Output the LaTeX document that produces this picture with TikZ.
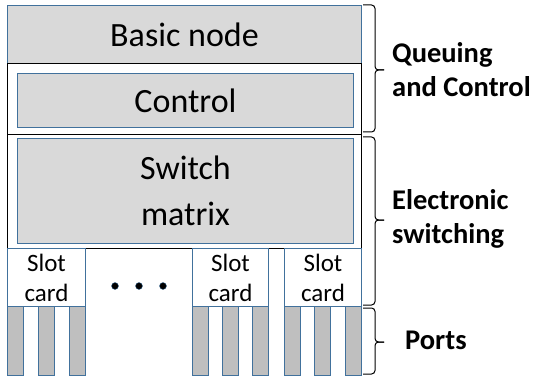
\documentclass[tikz,border=0pt]{standalone}
\usepackage{fontspec}
\setmainfont{Carlito}
\definecolor{boxblue}{HTML}{41719C}
\definecolor{boxgray}{HTML}{D9D9D9}
\definecolor{portgray}{HTML}{BFBFBF}
\begin{document}
\begin{tikzpicture}[x=1pt,y=-1pt,
  box/.style={draw=boxblue, fill=boxgray, line width=1pt, inner sep=0pt, anchor=north west, font=\fontsize{34}{44}\selectfont, align=center},
  outerbox/.style={draw=black, line width=1.3pt, inner sep=0pt, anchor=north west},
  slotbox/.style={draw=boxblue, fill=white, line width=1pt, inner sep=0pt, anchor=north west, minimum width=78pt, minimum height=58pt, font=\fontsize{25}{30}\selectfont, align=center},
  portbox/.style={draw=boxblue, fill=portgray, line width=1pt, inner sep=0pt, anchor=north west, minimum width=16pt, minimum height=69pt},
  dotnode/.style={circle, fill=black, draw=boxblue, inner sep=0pt, minimum size=7pt},
  bracestyle/.style={line width=1pt, rounded corners=3.5pt},
  label/.style={font=\bfseries\fontsize{28.5}{34}\selectfont, align=left, anchor=west, inner sep=0pt}
]
\useasboundingbox (0,0) rectangle (534,379);
\node[box, minimum width=354pt, minimum height=58pt] (basic) at (7,5) {Basic node};
\node[outerbox, minimum width=354pt, minimum height=71pt] (ctrlouter) at (7,63) {};
\node[box, minimum width=336pt, minimum height=54pt] (control) at (17,73) {Control};
\node[outerbox, minimum width=354pt, minimum height=114pt] (swouter) at (7,134) {};
\node[box, minimum width=336pt, minimum height=105pt, font=\fontsize{34}{46}\selectfont] (switch) at (17,138) {Switch\\matrix};
\node[slotbox] (slot1) at (7,248) {Slot\\card};
\node[slotbox, minimum width=76pt] (slot2) at (192,248) {Slot\\card};
\node[slotbox, minimum width=77pt] (slot3) at (284,248) {Slot\\card};
\node[portbox] (p1) at (7,306) {};
\node[portbox] (p2) at (38,306) {};
\node[portbox] (p3) at (69,306) {};
\node[portbox] (p4) at (192,306) {};
\node[portbox] (p5) at (222,306) {};
\node[portbox] (p6) at (252,306) {};
\node[portbox] (p7) at (284,306) {};
\node[portbox] (p8) at (314,306) {};
\node[portbox] (p9) at (345,306) {};
\node[dotnode] (d1) at (115,286) {};
\node[dotnode] (d2) at (139,286) {};
\node[dotnode] (d3) at (163,286) {};
% braces
\coordinate (b1t) at (363,5);
\coordinate (b1m) at (384,70);
\coordinate (b1b) at (363,132);
\coordinate (b2t) at (363,137);
\coordinate (b2m) at (384,220);
\coordinate (b2b) at (363,305);
\coordinate (b3t) at (363,308);
\coordinate (b3m) at (384,342);
\coordinate (b3b) at (363,374);
\draw[bracestyle] (b1t) -- ++(12,0) |- (b1m);
\draw[bracestyle] (b1b) -- ++(12,0) |- (b1m);
\draw[bracestyle] (b2t) -- ++(12,0) |- (b2m);
\draw[bracestyle] (b2b) -- ++(12,0) |- (b2m);
\draw[bracestyle] (b3t) -- ++(12,0) |- (b3m);
\draw[bracestyle] (b3b) -- ++(12,0) |- (b3m);
\node[label] (lq) at (392,70) {Queuing\\and Control};
\node[label] (le) at (392,219) {Electronic\\switching};
\node[label] (lp) at (405,340) {Ports};
\end{tikzpicture}
\end{document}
